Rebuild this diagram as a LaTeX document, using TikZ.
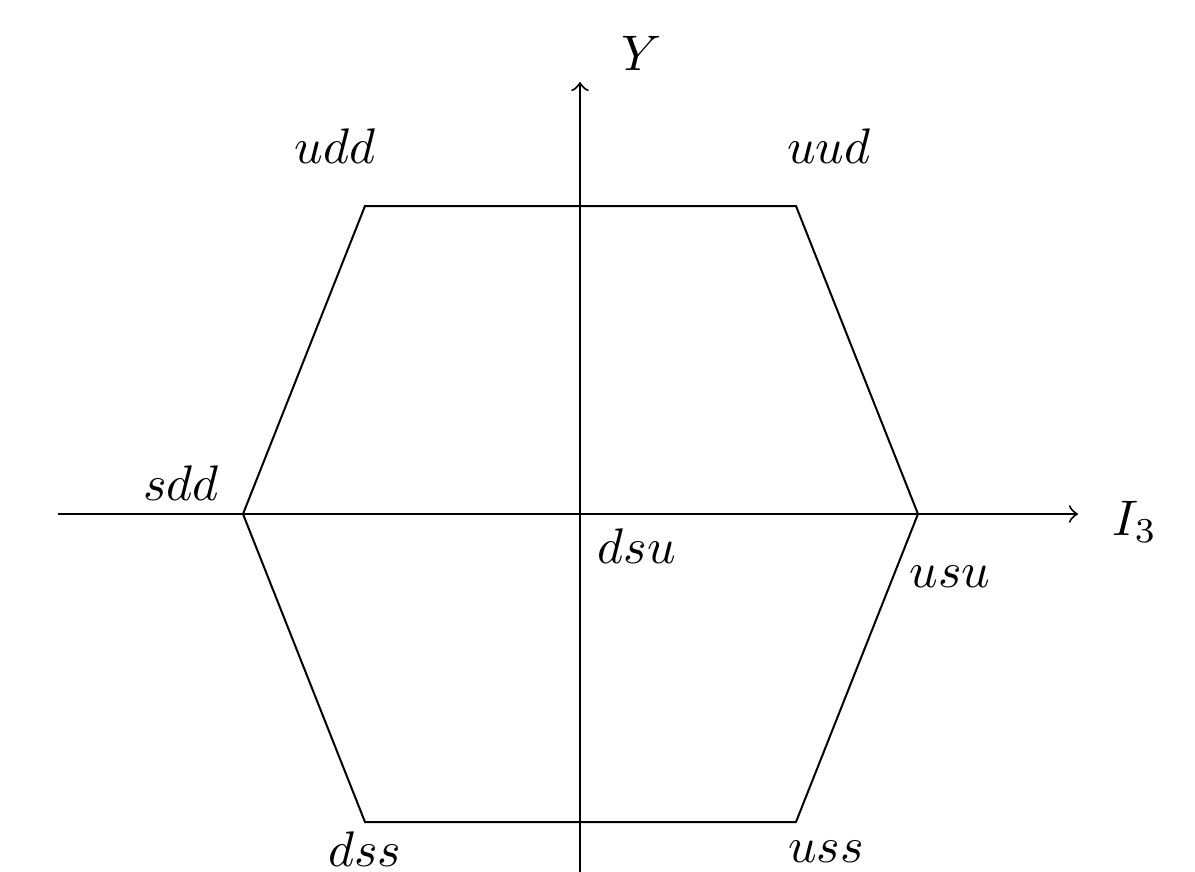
\documentclass[tikz,border=0pt]{standalone}
\usepackage{tikz}
\usetikzlibrary{positioning}

\tikzset{quark/.style={anchor=base}}

\begin{document}
\begin{tikzpicture}[x=20pt,y=20pt]
    \useasboundingbox (-5.80,-3.58) rectangle (6.15,5.14);
    % axes
    \draw[->] (-5.22,0) -- (4.98,0);
    \draw[->] (0,-3.70) -- (0,4.32);
    \node[quark] (iaxis) at (5.55,-0.21) {$I_3$};
    \node[quark] (yaxis) at (0.62,4.44) {$Y$};
    % hexagon corners
    \coordinate (tl) at (-2.15,3.08);
    \coordinate (tr) at (2.16,3.08);
    \coordinate (r) at (3.38,0);
    \coordinate (br) at (2.16,-3.08);
    \coordinate (bl) at (-2.15,-3.08);
    \coordinate (l) at (-3.37,0);
    \draw (tl) -- (tr) -- (r) -- (br) -- (bl) -- (l) -- cycle;
    % labels
    \node[quark] (udd) at (-2.45,3.51) {$udd$};
    \node[quark] (uud) at (2.49,3.51) {$uud$};
    \node[quark] (sdd) at (-3.99,0.14) {$sdd$};
    \node[quark] (dsu) at (0.57,-0.49) {$dsu$};
    \node[quark] (usu) at (3.70,-0.73) {$usu$};
    \node[quark] (dss) at (-2.15,-3.52) {$dss$};
    \node[quark] (uss) at (2.46,-3.48) {$uss$};
\end{tikzpicture}
\end{document}
